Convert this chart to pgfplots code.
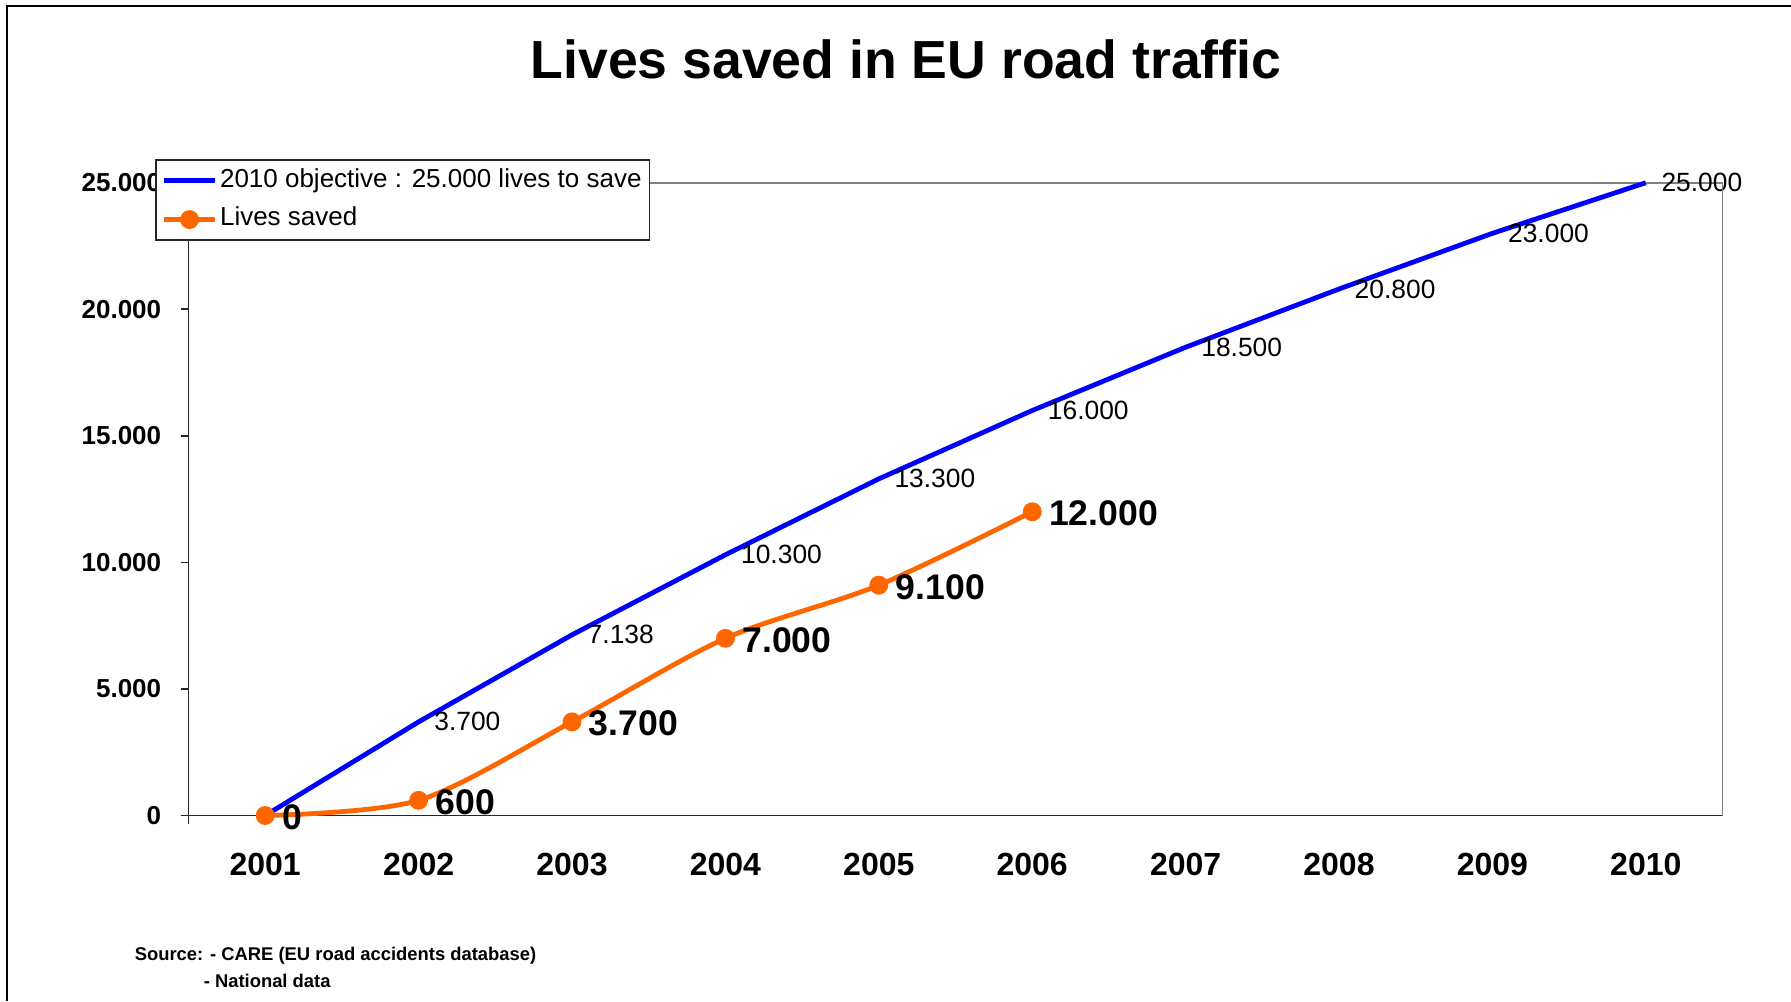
\documentclass[border=0pt]{standalone}
\usepackage{fontspec}
\setmainfont{Liberation Sans}
\usepackage{pgfplots}
\pgfplotsset{compat=1.18}
\definecolor{objblue}{RGB}{0,0,255}
\definecolor{savedorange}{RGB}{255,102,0}
\begin{document}
\begin{tikzpicture}[x=1pt,y=1pt]
\useasboundingbox (0,0) rectangle (447.75,250.25);
\draw[line width=0.5pt] (1.75,0) -- (1.75,248.75) -- (447.75,248.75);
\node[font=\fontsize{13.4}{16}\selectfont\bfseries] at (226.5,235.3) {Lives saved in EU road traffic};
\begin{axis}[
  at={(47.125pt,46.375pt)}, anchor=south west,
  scale only axis, width=383.5pt, height=158.2pt,
  xmin=0.5, xmax=10.5, ymin=0, ymax=25000,
  axis x line*=bottom, axis y line*=left,
  axis line style={-, black!85, line width=0.4pt},
  xtick={1,2,3,4,5,6,7,8,9,10},
  xticklabels={2001,2002,2003,2004,2005,2006,2007,2008,2009,2010},
  ytick={0,5000,10000,15000,20000,25000},
  scaled y ticks=false,
  extra y ticks={25000}, extra y tick labels={},
  extra y tick style={grid=major, major grid style={gray, line width=0.4pt}, major tick length=0pt},
  tick align=outside, major tick length=2pt,
  x tick style={draw=none},
  y tick style={black!85, line width=0.4pt},
  yticklabel style={font=\fontsize{6.5}{7.8}\selectfont\bfseries, xshift=-1.3pt},
  xticklabel style={font=\fontsize{8}{9.6}\selectfont\bfseries, yshift=-3.8pt},
  clip=false,
  legend style={at={(-0.0218,1.037)}, anchor=north west, draw=black!85, fill=white,
    inner xsep=1.4pt, inner ysep=0.3pt, nodes={inner xsep=0.6pt, inner ysep=1.75pt},
    font=\fontsize{6.5}{7.8}\selectfont, cells={anchor=west}},
  legend cell align=left,
  legend image code/.code={\draw[mark repeat=2,mark phase=2,#1] plot coordinates {(0pt,0pt) (6.425pt,0pt) (12.85pt,0pt)};},
  after end axis/.code={
    \draw[gray, line width=0.4pt] (rel axis cs:1,1) -- (rel axis cs:1,0);
    \draw[black!85, line width=0.4pt] (rel axis cs:0,0) -- ++(0,-2pt);
  },
  /pgf/number format/.cd, 1000 sep={.}, assume math mode=true
]
\addplot[objblue, line width=1.2pt, mark=none] coordinates {(1,0)(2,3700)(3,7138)(4,10300)(5,13300)(6,16000)(7,18500)(8,20800)(9,23000)(10,25000)};
\addlegendentry{2010 objective : 25.000 lives to save}
\addplot[draw=none, mark=none, forget plot, skip coords between index={0}{1}, nodes near coords, point meta=y,
  nodes near coords style={anchor=west, xshift=0.4pt, font=\fontsize{6.6}{8}\selectfont, text=black}]
  coordinates {(1,0)(2,3700)(3,7138)(4,10300)(5,13300)(6,16000)(7,18500)(8,20800)(9,23000)(10,25000)};
\addplot[savedorange, line width=1.2pt, smooth, mark=*, mark size=1.75pt, mark options={fill=savedorange, draw=savedorange},
  nodes near coords, point meta=y,
  nodes near coords style={anchor=west, xshift=0.3pt, yshift=-0.4pt, font=\fontsize{8.9}{10.7}\selectfont\bfseries, text=black}]
  coordinates {(1,0)(2,600)(3,3700)(4,7000)(5,9100)(6,12000)};
\addlegendentry{Lives saved}
\end{axis}
\node[anchor=west, inner sep=0pt, font=\fontsize{4.6}{5.5}\selectfont\bfseries] at (33.5,11.25) {Source: - CARE (EU road accidents database)};
\node[anchor=west, inner sep=0pt, font=\fontsize{4.6}{5.5}\selectfont\bfseries] at (50.75,5) {- National data};
\end{tikzpicture}
\end{document}
